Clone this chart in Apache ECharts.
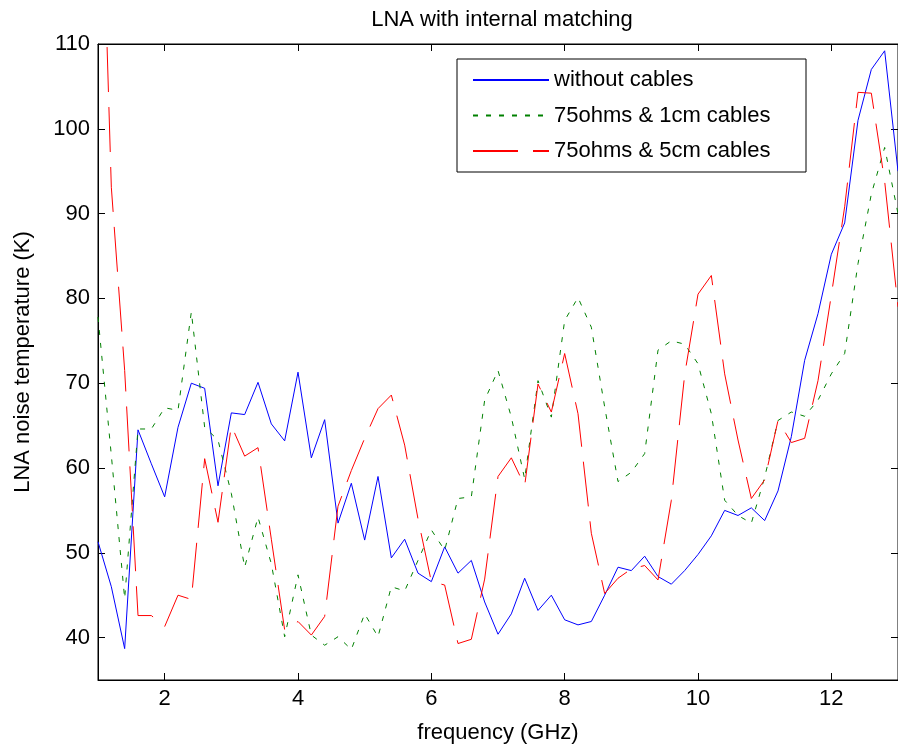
<!DOCTYPE html>
<html>
<head>
<meta charset="utf-8">
<title>LNA with internal matching</title>
<script src="https://cdn.jsdelivr.net/npm/echarts@6/dist/echarts.min.js"></script>
<style>
  html, body { margin: 0; padding: 0; background: #fff; }
  #chart { width: 898px; height: 750px; }
</style>
</head>
<body>
<div id="chart"></div>
<script>
// frequency points (GHz)
const freq = [
  1.0, 1.2, 1.4, 1.6, 1.8, 2.0, 2.2, 2.4, 2.6, 2.8,
  3.0, 3.2, 3.4, 3.6, 3.8, 4.0, 4.2, 4.4, 4.6, 4.8,
  5.0, 5.2, 5.4, 5.6, 5.8, 6.0, 6.2, 6.4, 6.6, 6.8,
  7.0, 7.2, 7.4, 7.6, 7.8, 8.0, 8.2, 8.4, 8.6, 8.8,
  9.0, 9.2, 9.4, 9.6, 9.8, 10.0, 10.2, 10.4, 10.6, 10.8,
  11.0, 11.2, 11.4, 11.6, 11.8, 12.0, 12.2, 12.4, 12.6, 12.8,
  13.0
];

// without cables
const noCables = [
  51.3, 46.0, 38.7, 64.5, 60.5, 56.6, 64.8, 70.0, 69.4, 57.9,
  66.5, 66.3, 70.1, 65.2, 63.2, 71.3, 61.2, 65.7, 53.5, 58.2,
  51.5, 59.0, 49.4, 51.6, 47.6, 46.6, 50.7, 47.6, 49.1, 44.2,
  40.4, 42.8, 47.0, 43.2, 45.0, 42.1, 41.5, 41.9, 45.0, 48.3,
  47.9, 49.6, 47.2, 46.3, 47.9, 49.8, 52.0, 55.0, 54.4, 55.3,
  53.8, 57.3, 63.7, 72.7, 78.2, 85.2, 88.9, 101.0, 107.0, 109.2,
  95.0
];

// 75ohms & 1cm cables
const cable1cm = [
  77.8, 61.5, 44.6, 64.6, 64.6, 67.1, 66.8, 78.4, 64.8, 63.3,
  57.0, 48.3, 54.2, 48.7, 40.1, 47.4, 40.3, 39.1, 40.1, 38.6,
  42.8, 40.1, 46.0, 45.5, 49.1, 52.7, 50.3, 56.4, 56.6, 68.0,
  71.5, 66.0, 58.7, 70.3, 66.0, 77.4, 80.1, 76.6, 67.2, 58.4,
  59.5, 61.7, 73.9, 75.0, 74.6, 72.3, 66.4, 56.2, 54.4, 53.5,
  58.9, 65.6, 66.6, 66.1, 68.0, 71.1, 73.5, 84.1, 92.3, 97.8,
  90.0
];

// 75ohms & 5cm cables (first point is above the axis top and gets clipped)
const cable5cm = [
  145.0, 93.1, 71.5, 42.6, 42.6, 41.3, 45.0, 44.5, 61.1, 53.6,
  65.0, 61.4, 62.4, 51.6, 40.9, 41.9, 40.3, 42.5, 55.5, 59.7,
  63.5, 67.0, 68.6, 62.7, 54.0, 46.6, 46.2, 39.3, 39.8, 46.9,
  59.0, 61.2, 57.9, 69.9, 66.6, 73.5, 66.4, 52.3, 45.2, 47.0,
  48.1, 48.5, 46.8, 56.2, 71.0, 80.5, 82.7, 71.1, 63.3, 56.4,
  58.6, 65.6, 63.0, 63.5, 70.3, 80.4, 90.8, 104.3, 104.2, 93.8,
  79.0
];

const xTicks = [2, 4, 6, 8, 10, 12];
const yTicks = [40, 50, 60, 70, 80, 90, 100, 110];

const font = "'Liberation Sans', Arial, Helvetica, sans-serif";
const fs = 22;

function pairs(ys) {
  return freq.map((x, i) => [x, ys[i]]);
}

const chart = echarts.init(document.getElementById("chart"), null, { renderer: "canvas" });

const tickStyle = { show: true, inside: true, length: 7, lineStyle: { color: "#000", width: 1 } };

const option = {
  animation: false,
  backgroundColor: "#fff",
  title: {
    text: "LNA with internal matching",
    left: 497,
    top: 4,
    textAlign: "center",
    textStyle: { fontFamily: font, fontSize: fs, fontWeight: "normal", color: "#000" }
  },
  grid: {
    left: 98,
    top: 44,
    right: -5,
    bottom: 70,
    show: true,
    borderColor: "#000",
    borderWidth: 1,
    backgroundColor: "#fff"
  },
  legend: {
    orient: "vertical",
    left: 457,
    top: 59,
    padding: [10, 11, 10, 15],
    itemWidth: 76,
    itemHeight: 22,
    itemGap: 13.5,
    borderColor: "#000",
    borderWidth: 1,
    backgroundColor: "#fff",
    itemStyle: { color: "rgba(0,0,0,0)", borderColor: "rgba(0,0,0,0)", borderWidth: 0 },
    textStyle: { fontFamily: font, fontSize: fs, color: "#000", lineHeight: 22, width: 241 },
    data: ["without cables", "75ohms & 1cm cables", "75ohms & 5cm cables"]
  },
  xAxis: [
    {
      type: "value",
      min: 1,
      max: 13,
      name: "frequency (GHz)",
      nameLocation: "middle",
      nameGap: 42,
      nameTextStyle: { fontFamily: font, fontSize: fs, color: "#000" },
      axisLine: { show: true, onZero: false, lineStyle: { color: "#000" } },
      axisTick: Object.assign({ customValues: xTicks }, tickStyle),
      axisLabel: { customValues: xTicks, margin: 8, fontFamily: font, fontSize: fs, color: "#000" },
      splitLine: { show: false }
    },
    {
      type: "value",
      position: "top",
      min: 1,
      max: 13,
      axisLine: { show: true, onZero: false, lineStyle: { color: "#000" } },
      axisTick: Object.assign({ customValues: xTicks }, tickStyle),
      axisLabel: { show: false },
      splitLine: { show: false }
    }
  ],
  yAxis: [
    {
      type: "value",
      min: 35,
      max: 110,
      name: "LNA noise temperature (K)",
      nameLocation: "middle",
      nameGap: 64,
      nameTextStyle: { fontFamily: font, fontSize: fs, color: "#000" },
      axisLine: { show: true, onZero: false, lineStyle: { color: "#000" } },
      axisTick: Object.assign({ customValues: yTicks }, tickStyle),
      axisLabel: { customValues: yTicks, margin: 8, fontFamily: font, fontSize: fs, color: "#000" },
      splitLine: { show: false }
    },
    {
      type: "value",
      position: "right",
      min: 35,
      max: 110,
      axisLine: { show: true, onZero: false, lineStyle: { color: "#000" } },
      axisTick: Object.assign({ customValues: yTicks }, tickStyle),
      axisLabel: { show: false },
      splitLine: { show: false }
    }
  ],
  series: [
    {
      name: "without cables",
      type: "line",
      data: pairs(noCables),
      showSymbol: false,
      symbol: "none",
      clip: true,
      lineStyle: { color: "#0000ff", width: 1 },
      itemStyle: { color: "#0000ff" }
    },
    {
      name: "75ohms & 1cm cables",
      type: "line",
      data: pairs(cable1cm),
      showSymbol: false,
      symbol: "none",
      clip: true,
      lineStyle: { color: "#008000", width: 1, type: [5, 8] },
      itemStyle: { color: "#008000" }
    },
    {
      name: "75ohms & 5cm cables",
      type: "line",
      data: pairs(cable5cm),
      showSymbol: false,
      symbol: "none",
      clip: true,
      lineStyle: { color: "#ff0000", width: 1, type: [45, 15] },
      itemStyle: { color: "#ff0000" }
    }
  ]
};

chart.setOption(option);
</script>
</body>
</html>
